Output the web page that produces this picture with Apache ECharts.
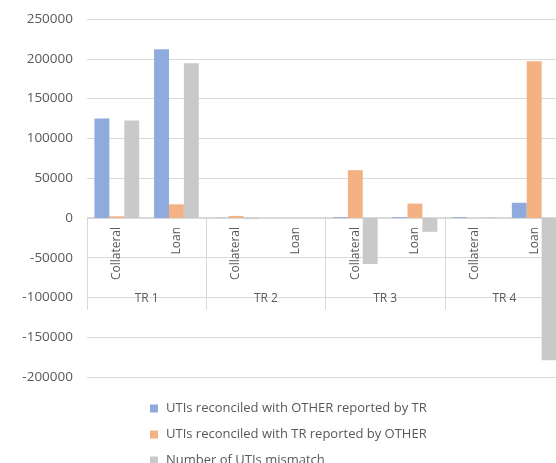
<!DOCTYPE html>
<html>
<head>
<meta charset="utf-8">
<style>html,body{margin:0;padding:0;background:#fff;}#c{width:556px;height:463px;}</style>
<script src="https://cdn.jsdelivr.net/npm/echarts@6/dist/echarts.min.js"></script>
</head>
<body>
<div id="c"></div>
<script>
const categories = ['Collateral', 'Loan', 'Collateral', 'Loan', 'Collateral', 'Loan', 'Collateral', 'Loan'];
const groups = ['TR 1', 'TR 2', 'TR 3', 'TR 4'];
const seriesNames = ['UTIs reconciled with OTHER reported by TR', 'UTIs reconciled with TR reported by OTHER', 'Number of UTIs mismatch'];
const reconciledOther = [125000, 212000, 300, 0, 1000, 1000, 1000, 19000];
const reconciledTR = [2000, 17000, 2500, 0, 60000, 18000, 0, 197000];
const mismatch = [122500, 194500, -1500, 0, -58000, -17500, 800, -179000];
const yTicks = { min: -200000, max: 250000, interval: 50000 };

const colors = ['#8FAADC', '#F4B183', '#C9C9C9'];
const font = 'Open Sans';
const chart = echarts.init(document.getElementById('c'));
chart.setOption({
  animation: false,
  color: colors,
  grid: [
    { left: 87, width: 477, top: 19, height: 358, containLabel: false, outerBoundsMode: 'none' },
    { left: 87, width: 477, top: 19, height: 198, containLabel: false, outerBoundsMode: 'none' }
  ],
  legend: {
    orient: 'vertical', left: 145, top: 397, height: 120, itemWidth: 8, itemHeight: 8, itemGap: 13,
    icon: 'rect',
    textStyle: { fontFamily: font, fontSize: 13, color: '#595959', padding: [0, 0, 0, 3] },
    data: seriesNames
  },
  xAxis: [
    {
      type: 'category', data: categories, gridIndex: 0, show: false
    },
    {
      type: 'category', data: categories, gridIndex: 1, position: 'bottom',
      axisLine: { onZero: false, lineStyle: { color: '#d9d9d9' } },
      axisTick: { show: false },
      axisLabel: { rotate: 90, margin: 10, fontFamily: font, fontSize: 12, color: '#595959', interval: 0 },
      splitLine: { show: false }
    },
    {
      type: 'category', data: groups, gridIndex: 1, position: 'bottom',
      axisLine: { show: false, onZero: false },
      axisTick: { show: true, length: 93, lineStyle: { color: '#d9d9d9' } },
      axisLabel: { margin: 76, fontFamily: font, fontSize: 12, color: '#595959' },
      splitLine: { show: false }
    }
  ],
  yAxis: [
    {
      type: 'value', gridIndex: 0, min: yTicks.min, max: yTicks.max, interval: yTicks.interval,
      axisLine: { show: false }, axisTick: { show: false },
      axisLabel: { margin: 14, fontFamily: font, fontSize: 13.5, color: '#595959', formatter: v => String(v) },
      splitLine: { lineStyle: { color: '#d9d9d9' } }
    },
    { type: 'value', gridIndex: 1, min: 0, max: 1, show: false }
  ],
  series: [
    { name: seriesNames[0], type: 'bar', data: reconciledOther, barGap: '0%', barCategoryGap: '25%', xAxisIndex: 0, yAxisIndex: 0 },
    { name: seriesNames[1], type: 'bar', data: reconciledTR, barGap: '0%', barCategoryGap: '25%', xAxisIndex: 0, yAxisIndex: 0 },
    { name: seriesNames[2], type: 'bar', data: mismatch, barGap: '0%', barCategoryGap: '25%', xAxisIndex: 0, yAxisIndex: 0 }
  ]
});
</script>
</body>
</html>
